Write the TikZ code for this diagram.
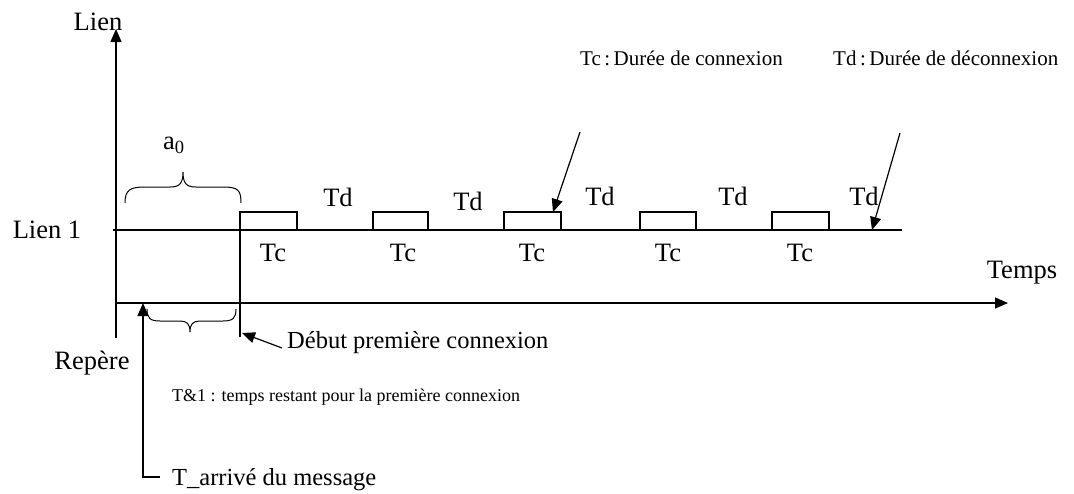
\documentclass[tikz,border=0pt]{standalone}
\usepackage{fontspec}
\setmainfont{Liberation Serif}
\usetikzlibrary{arrows.meta}
\begin{document}
\begin{tikzpicture}[x=1pt,y=-1pt,
  axis/.style={line width=1.4pt},
  thin line/.style={line width=1.2pt},
  tip/.style={-{Triangle[length=13pt,width=11pt]}},
  biglabel/.style={inner sep=0pt,font=\fontsize{26.5}{30}\selectfont},
  note/.style={inner sep=0pt,anchor=west,font=\fontsize{21}{25}\selectfont},
  smallnote/.style={inner sep=0pt,anchor=west,font=\fontsize{18}{22}\selectfont},
  midnote/.style={inner sep=0pt,anchor=west,font=\fontsize{24.5}{28}\selectfont},
]
\useasboundingbox (0,0) rectangle (1074,493);

% axes
\coordinate (vbot) at (116,338);
\coordinate (vtop) at (116,29);
\draw[axis,tip] (vbot) -- (vtop);
\node[biglabel] (lien) at (98,22) {Lien};

\coordinate (l1start) at (113,230);
\coordinate (l1end) at (902,230);
\draw[axis] (l1start) -- (l1end);
\node[biglabel] (lien1) at (47,230) {Lien 1};

\coordinate (tstart) at (115,303);
\coordinate (tend) at (1008,303);
\draw[axis,tip] (tstart) -- (tend);
\node[biglabel] (temps) at (1022,273) {Temps};

\node[biglabel] (repere) at (92,363) {Repère};

% connection pulses
\coordinate (p1a) at (240,337);
\coordinate (p1b) at (240,212);
\coordinate (p1c) at (297,212);
\coordinate (p1d) at (297,230);
\draw[thin line] (p1a) -- (p1b) -- (p1c) -- (p1d);
\foreach \l/\r [count=\i from 2] in {373/428, 504/561, 640/696, 772/829}{
  \coordinate (p\i a) at (\l,230);
  \coordinate (p\i b) at (\l,212);
  \coordinate (p\i c) at (\r,212);
  \coordinate (p\i d) at (\r,230);
  \draw[thin line] (p\i a) -- (p\i b) -- (p\i c) -- (p\i d);
}

% Tc / Td labels
\foreach \x [count=\i] in {273,403,532,668,800}
  \node[biglabel] (tc\i) at (\x,253) {Tc};
\foreach \x/\y [count=\i] in {338/197,468/201,600/196,733/196,864/196}
  \node[biglabel] (td\i) at (\x,\y) {Td};

% legends
\node[note] (tclegend) at (580,58) {Tc\,:\,Durée de connexion};
\node[note] (tdlegend) at (833,58) {Td\,:\,Durée de déconnexion};
\coordinate (tcfrom) at (580,132);
\coordinate (tcto) at (553,212);
\draw[thin line,tip] (tcfrom) -- (tcto);
\coordinate (tdfrom) at (900,133);
\coordinate (tdto) at (872,230);
\draw[thin line,tip] (tdfrom) -- (tdto);

% brace a0
\draw[line width=1pt] (125,203) .. controls (125,190) and (130,187) .. (145,187)
  -- (170,187) .. controls (180,187) and (183,183) .. (183,172)
  .. controls (183,183) and (186,187) .. (196,187)
  -- (223,187) .. controls (238,187) and (241,190) .. (241,203);
\node[biglabel] (a0) at (174,145) {a\textsubscript{0}};

% brace below the time axis
\draw[line width=1pt] (147,309) .. controls (147,318) and (150,321) .. (160,321)
  -- (180,321) .. controls (187,321) and (190,324) .. (190,332)
  .. controls (190,324) and (193,321) .. (200,321)
  -- (223,321) .. controls (233,321) and (236,318) .. (236,309);

% start of first connection
\node[midnote] (debut) at (287,343) {Début première connexion};
\coordinate (debutto) at (242,333);
\draw[thin line,tip] (debut.west) ++(-5,5) coordinate (debutfrom) (debutfrom) -- (debutto);

\node[smallnote] (trest) at (172,397) {T\&1 : temps restant pour la première connexion};

% message arrival
\node[midnote] (tarr) at (172,480) {T\_arrivé du message};
\coordinate (marr1) at (160,477);
\coordinate (marr2) at (143,477);
\coordinate (marr3) at (143,303);
\draw[thin line,tip] (marr1) -- (marr2) -- (marr3);
\end{tikzpicture}
\end{document}
